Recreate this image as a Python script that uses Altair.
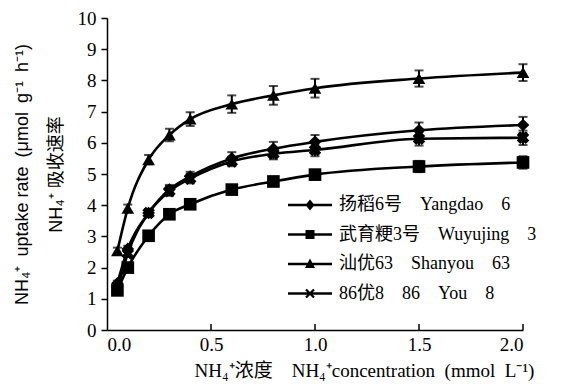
import altair as alt
import pandas as pd

conc = [0.05, 0.1, 0.2, 0.3, 0.4, 0.6, 0.8, 1.0, 1.5, 2.0]
series_names = [
    "扬稻6号\u2002\u2002Yangdao\u2002\u20026",
    "武育粳3号\u2002\u2002Wuyujing\u2002\u20023",
    "汕优63\u2002\u2002Shanyou\u2002\u200263",
    "86优8\u2002\u200286\u2002\u2002You\u2002\u20028",
]
yangdao = [1.5, 2.6, 3.75, 4.5, 4.92, 5.5, 5.81, 6.03, 6.4, 6.57]
wuyujing = [1.27, 2.0, 3.02, 3.71, 4.03, 4.5, 4.76, 4.98, 5.24, 5.37]
shanyou = [2.54, 3.9, 5.46, 6.25, 6.76, 7.24, 7.52, 7.75, 8.06, 8.25]
you8 = [1.3, 2.45, 3.75, 4.45, 4.85, 5.4, 5.65, 5.77, 6.13, 6.16]
yangdao_err = [0.08, 0.1, 0.12, 0.15, 0.15, 0.2, 0.22, 0.22, 0.25, 0.26]
wuyujing_err = [0.05, 0.08, 0.1, 0.12, 0.12, 0.12, 0.15, 0.15, 0.18, 0.2]
shanyou_err = [0.1, 0.12, 0.15, 0.2, 0.22, 0.28, 0.3, 0.3, 0.26, 0.27]
you8_err = [0.08, 0.1, 0.12, 0.15, 0.15, 0.15, 0.18, 0.2, 0.22, 0.23]
x_ticks = [0.0, 0.5, 1.0, 1.5, 2.0]
y_ticks = [0, 1, 2, 3, 4, 5, 6, 7, 8, 9, 10]

shapes = ["diamond", "square", "triangle-up", "cross"]
angles = [0, 0, 0, 45]
LINE = "M-2.2,-0.12H2.2V0.12H-2.2Z"
legend_paths = [
    LINE + "M0,-0.55L0.45,0L0,0.55L-0.45,0Z",
    LINE + "M-0.45,-0.45H0.45V0.45H-0.45Z",
    LINE + "M0,-0.55L0.5,0.4H-0.5Z",
    LINE + "M-0.32,-0.48L0.48,0.32L0.32,0.48L-0.48,-0.32Z"
           "M-0.48,0.32L0.32,-0.48L0.48,-0.32L-0.32,0.48Z",
]

rows = []
for name, vals, errs, ang in zip(series_names, [yangdao, wuyujing, shanyou, you8],
                                 [yangdao_err, wuyujing_err, shanyou_err, you8_err], angles):
    for xv, yv, ev in zip(conc, vals, errs):
        rows.append({"x": xv, "y": yv, "lo": yv - ev, "hi": yv + ev, "series": name, "ang": ang})
df = pd.DataFrame(rows)
ticks_df = pd.DataFrame({"t": x_ticks[1:]})

W, H = 416, 312
SERIF = "Liberation Serif, Noto Sans CJK SC"

xscale = alt.Scale(domain=[0, 2])
yscale = alt.Scale(domain=[0, 10])

x_axis = alt.Axis(
    values=x_ticks, format=".1f", ticks=False, grid=False,
    title="NH₄⁺浓度\u2002\u2002NH₄⁺concentration\u2002(mmol\u2002L⁻¹)",
    titleFont=SERIF, titleFontSize=19, titleFontWeight="normal", titleColor="black",
    titleX=257, titleY=40, titleBaseline="middle",
    labelFont=SERIF, labelFontSize=19, labelColor="black", labelPadding=5,
    domainColor="black", domainWidth=1.5)
y_axis = alt.Axis(
    values=y_ticks, grid=False, tickSize=6, tickColor="black", tickWidth=1.5,
    labelOverlap=False,
    title=["NH₄⁺\u2002uptake rate\u2002(μmol\u2002g⁻¹\u2002h⁻¹)", "NH₄⁺ 吸收速率"],
    titleFont="Liberation Sans, Noto Sans CJK SC", titleFontSize=18, titleFontWeight="normal",
    titleColor="black", titleLineHeight=34, titlePadding=12,
    labelFont=SERIF, labelFontSize=19, labelColor="black", labelPadding=5,
    domainColor="black", domainWidth=1.5)

base = alt.Chart(df)

lines = base.mark_line(color="black", strokeWidth=2.6, interpolate="monotone").encode(
    x=alt.X("x:Q", scale=xscale, axis=x_axis),
    y=alt.Y("y:Q", scale=yscale, axis=y_axis),
    detail="series:N")

errs = base.mark_errorbar(
    ticks=alt.TickConfig(size=9, thickness=2, color="black"),
    rule=alt.LineConfig(strokeWidth=2, color="black")).encode(
    x=alt.X("x:Q", scale=xscale, axis=x_axis),
    y=alt.Y("lo:Q", scale=yscale, axis=y_axis),
    y2="hi:Q")

pts = base.mark_point(filled=True, color="black", opacity=1).encode(
    x=alt.X("x:Q", scale=xscale, axis=x_axis),
    y=alt.Y("y:Q", scale=yscale, axis=y_axis),
    shape=alt.Shape("series:N", scale=alt.Scale(domain=series_names, range=shapes), legend=None),
    size=alt.value(160),
    angle=alt.Angle("ang:Q", scale=None))

legend_layer = base.transform_filter("datum.y < -100").mark_point(
    filled=True, color="black", opacity=1).encode(
    x=alt.X("x:Q", scale=xscale, axis=x_axis),
    y=alt.Y("y:Q", scale=yscale, axis=y_axis),
    shape=alt.Shape("series:N", scale=alt.Scale(domain=series_names, range=legend_paths),
                    legend=alt.Legend(title=None, orient="none", legendX=192, legendY=176,
                                      symbolSize=400, symbolFillColor="black",
                                      symbolOpacity=1, labelFont=SERIF, labelFontSize=18,
                                      labelLimit=0,
                                      labelColor="black", labelOffset=18, rowPadding=9.5)))

tick_marks = alt.Chart(ticks_df).mark_rule(color="black", strokeWidth=1.5).encode(
    x=alt.X("t:Q", scale=xscale, axis=x_axis),
    y=alt.YDatum(0, scale=yscale, axis=y_axis),
    y2=alt.value(H - 6))

chart = alt.layer(lines, errs, pts, legend_layer, tick_marks).resolve_scale(
    shape="independent").properties(
    width=W, height=H,
    autosize=alt.AutoSizeParams(type="none"),
    padding={"left": 99, "top": 10, "right": 33, "bottom": 52},
).configure_view(stroke=None)

chart.save("out.html", embed_options={"renderer": "svg", "actions": False})
